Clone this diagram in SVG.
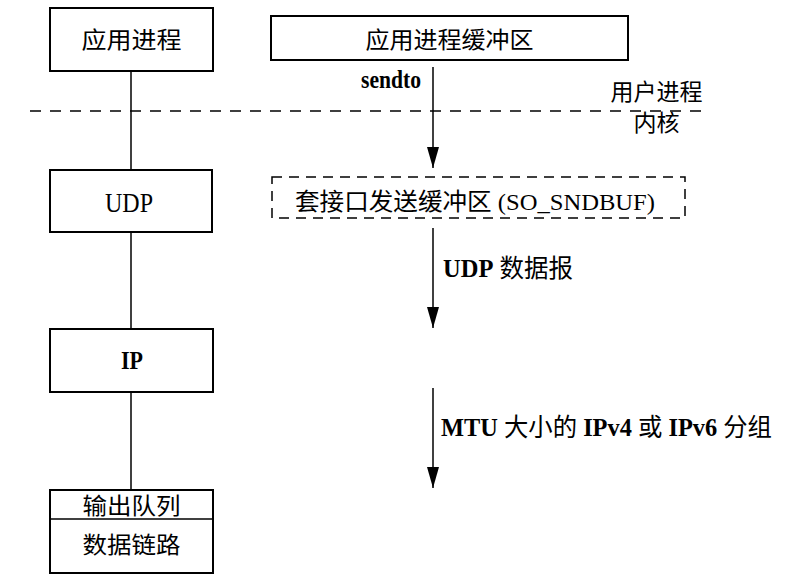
<svg xmlns="http://www.w3.org/2000/svg" width="787" height="584" viewBox="0 0 787 584">
<style>
  .box { fill: #fff; stroke: #000; stroke-width: 2; }
  .dbox { fill: none; stroke: #000; stroke-width: 1.5; stroke-dasharray: 10 7; }
  .t { font-family: "Liberation Serif", "Noto Sans CJK SC", serif; font-size: 23px; fill: #000; }
  .c { text-anchor: middle; }
  .b { font-weight: bold; }
  .ln { stroke: #000; stroke-width: 1.5; fill: none; }
  .dash { stroke: #000; stroke-width: 1.3; stroke-dasharray: 11 9; fill: none; }
</style>
<defs>
  <marker id="ah" viewBox="0 0 21 12" refX="21" refY="6" markerWidth="21" markerHeight="12" markerUnits="userSpaceOnUse" orient="auto">
    <path d="M0,0 L21,6 L0,12 Z" fill="#000"/>
  </marker>
</defs>
<rect width="787" height="584" fill="#fff"/>
<g id="connectors">
  <line class="ln" x1="131" y1="71" x2="131" y2="170"/>
  <line class="ln" x1="131" y1="232" x2="131" y2="329"/>
  <line class="ln" x1="131" y1="392" x2="131" y2="490"/>
  <line class="dash" x1="30" y1="111" x2="706" y2="111"/>
  <line class="ln" x1="433" y1="67" x2="433" y2="168" marker-end="url(#ah)"/>
  <line class="ln" x1="433" y1="228" x2="433" y2="328" marker-end="url(#ah)"/>
  <line class="ln" x1="433" y1="388" x2="433" y2="488" marker-end="url(#ah)"/>
  <text class="t" x="421" y="88" text-anchor="end" textLength="60" lengthAdjust="spacingAndGlyphs" style="font-size:26px;font-weight:600">sendto</text>
  <text class="t" x="443" y="277" textLength="130" lengthAdjust="spacingAndGlyphs" style="font-size:25px"><tspan class="b">UDP</tspan> 数据报</text>
  <text class="t" x="441" y="436" textLength="331" lengthAdjust="spacingAndGlyphs" style="font-size:25px"><tspan class="b">MTU</tspan> 大小的 <tspan class="b">IPv4</tspan> 或 <tspan class="b">IPv6</tspan> 分组</text>
</g>
<g id="app">
  <rect class="box" x="50" y="8" width="163" height="63"/>
  <text class="t c" x="131.5" y="48" textLength="100" lengthAdjust="spacingAndGlyphs">应用进程</text>
</g>
<g id="appbuf">
  <rect class="box" x="271" y="16" width="357" height="44"/>
  <text class="t c" x="449.5" y="48" textLength="168" lengthAdjust="spacingAndGlyphs">应用进程缓冲区</text>
</g>
<g id="userkernel">
  <text class="t c" x="656.5" y="100">用户进程</text>
  <text class="t c" x="656.5" y="131">内核</text>
</g>
<g id="udp">
  <rect class="box" x="50" y="170" width="162" height="62"/>
  <text class="t c" x="129" y="212" textLength="48" lengthAdjust="spacingAndGlyphs" style="font-size:28px">UDP</text>
</g>
<g id="sndbuf">
  <rect class="dbox" x="272" y="177" width="413" height="41"/>
  <text class="t" x="295" y="210" textLength="360" lengthAdjust="spacingAndGlyphs" style="font-size:24px">套接口发送缓冲区 (SO_SNDBUF)</text>
</g>
<g id="ip">
  <rect class="box" x="50" y="329" width="163" height="63"/>
  <text class="t c b" x="132" y="369" textLength="22" lengthAdjust="spacingAndGlyphs" style="font-size:26px">IP</text>
</g>
<g id="datalink">
  <rect class="box" x="50" y="490" width="163" height="83"/>
  <line class="ln" x1="50" y1="519" x2="213" y2="519"/>
  <text class="t c" x="131.5" y="514" textLength="98" lengthAdjust="spacingAndGlyphs">输出队列</text>
  <text class="t c" x="131.5" y="553" textLength="98" lengthAdjust="spacingAndGlyphs">数据链路</text>
</g>
</svg>
